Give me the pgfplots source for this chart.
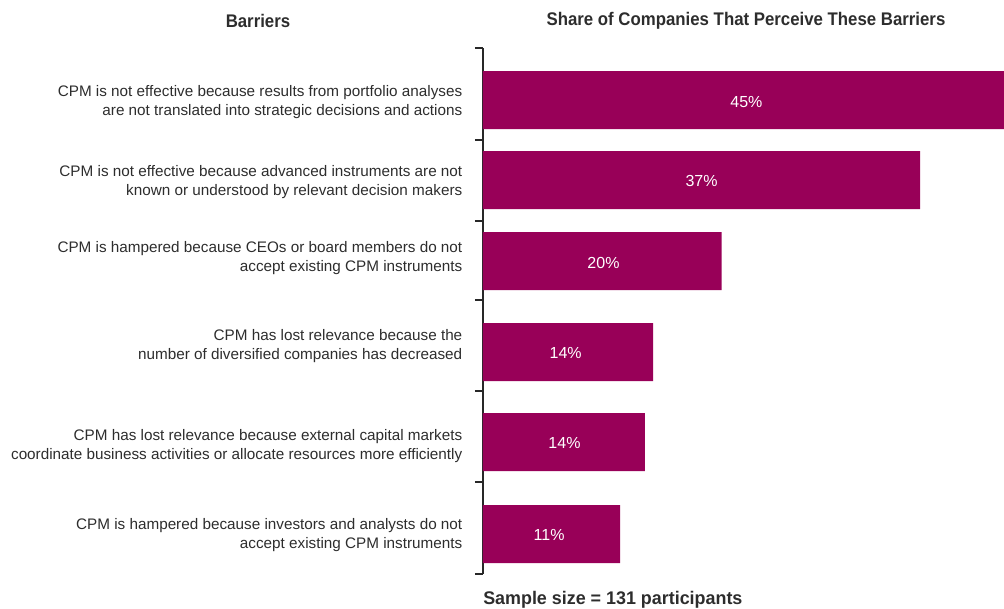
\documentclass[border=0pt]{standalone}
\usepackage{fontspec}
\setmainfont{Liberation Sans}
\newfontfamily\condfont[FakeStretch=0.92]{Liberation Sans}
\newfontfamily\condfontb[FakeStretch=0.98]{Liberation Sans}
\usepackage{pgfplots}
\pgfplotsset{compat=1.18}
\definecolor{barc}{RGB}{152,0,88}
\definecolor{txt}{RGB}{45,45,45}
\definecolor{axc}{RGB}{40,40,40}
\begin{document}
\begin{tikzpicture}[x=0.75pt,y=0.75pt]
\path[use as bounding box] (-483,-34) rectangle (521,574);
\begin{axis}[
  at={(0,0)}, anchor=south west,
  scale only axis,
  width=390.75pt, height=394.5pt,
  xmin=0, xmax=44.1,
  ymin=48, ymax=574,
  y dir=reverse,
  axis x line=none,
  axis y line*=left,
  axis line style={axc, line width=1pt},
  xtick=\empty,
  ytick={102.5,182.5,258.5,346.5,446.5,535.5},
  yticklabels={
    {CPM is not effective because results from portfolio analyses\\are not translated into strategic decisions and actions},
    {CPM is not effective because advanced instruments are not\\known or understood by relevant decision makers},
    {CPM is hampered because CEOs or board members do not\\accept existing CPM instruments},
    {CPM has lost relevance because the\\number of diversified companies has decreased},
    {CPM has lost relevance because external capital markets\\coordinate business activities or allocate resources more efficiently},
    {CPM is hampered because investors and analysts do not\\accept existing CPM instruments}},
  yticklabel style={align=right, font=\fontsize{11.45}{14.25}\selectfont, text=txt, xshift=-12pt},
  major tick length=0pt,
  extra y ticks={48,140,221,300,391,482,574},
  extra y tick labels={},
  extra y tick style={major tick length=6pt, tick align=outside, ytick pos=left, tick style={axc, line width=1pt}},
  clip=true,
]
\addplot[xbar, bar shift=0pt, bar width=43.5pt, fill=barc, draw=none]
  coordinates {(45,100) (37,180) (20.2,261) (14.4,352) (13.7,442) (11.6,534)};
\addplot[draw=none, mark=none, nodes near coords, point meta=explicit symbolic,
  every node near coord/.append style={anchor=center, text=white, font=\fontsize{12}{13}\selectfont}]
  coordinates {(22.3,102) [45\%] (18.5,181) [37\%] (10.2,263) [20\%] (7.0,353) [14\%] (6.9,443) [14\%] (5.6,535) [11\%]};
\end{axis}
\node[font=\condfont\bfseries\fontsize{13.7}{15}\selectfont, text=txt] at (-225,553) {Barriers};
\node[font=\condfont\bfseries\fontsize{13.7}{15}\selectfont, text=txt] at (263,553) {Share of Companies That Perceive These Barriers};
\node[font=\condfontb\bfseries\fontsize{13.7}{15}\selectfont, text=txt, anchor=west, inner sep=0pt] at (0,-26) {Sample size = 131 participants};
\end{tikzpicture}
\end{document}
